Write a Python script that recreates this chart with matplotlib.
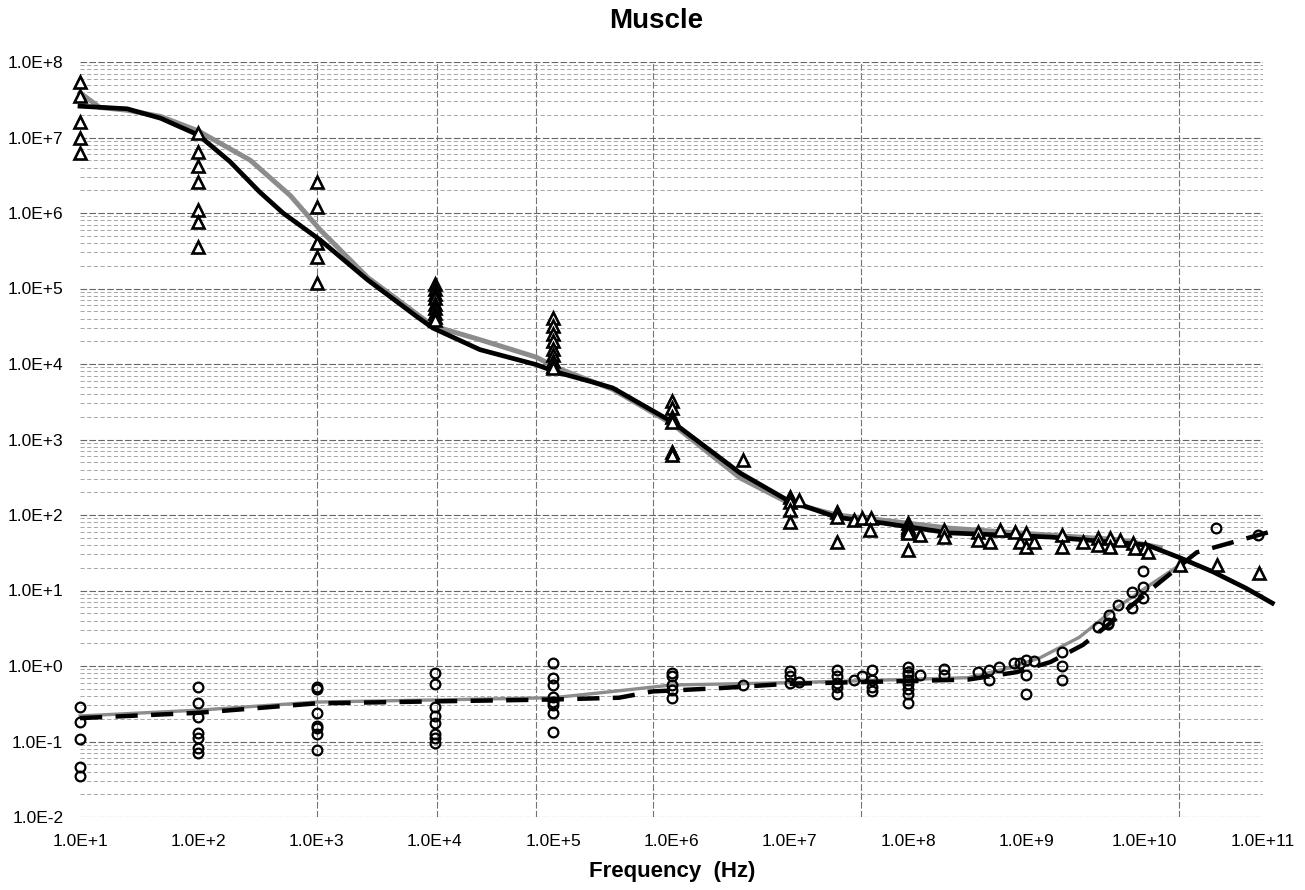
import numpy as np
import matplotlib
matplotlib.use('Agg')
import matplotlib.pyplot as plt
from matplotlib.ticker import FixedLocator, FuncFormatter, LogLocator, NullFormatter, NullLocator

plt.rcParams['font.family'] = ['Liberation Sans', 'DejaVu Sans']

# --- model curves (frequency in Hz) ---
# relative permittivity, black model
eps_black_f = [10, 25, 48, 100, 185, 330, 520, 1.07e3, 2.7e3, 7.1e3, 9.6e3, 2.4e4, 7.2e4, 1.07e5,
               2.3e5, 3.2e5, 1.02e6, 3.8e6, 9.5e6, 2.5e7, 6.2e7, 2.2e8, 1.6e9, 1.05e10, 2e10,
               3.8e10, 7.2e10, 1.2e11]
eps_black_v = [2.6e7, 2.4e7, 1.8e7, 1.08e7, 4.8e6, 1.9e6, 1.0e6, 4.4e5, 1.3e5, 4.2e4, 3.0e4, 1.55e4,
               9.8e3, 7.8e3, 5.6e3, 4.8e3, 1.7e3, 360, 158, 93, 78, 58, 51, 40, 27,
               17.6, 10.7, 6.8]

# relative permittivity, gray model
eps_gray_f = [10, 14.7, 25, 48, 100, 275, 600, 1.07e3, 2.7e3, 9.6e3, 2.4e4, 7.2e4, 1.07e5, 3.2e5,
              1.02e6, 3.8e6, 9.5e6, 2.5e7, 6.2e7, 2.2e8, 1.6e9, 6.2e9, 1.35e10]
eps_gray_v = [3.9e7, 2.5e7, 2.3e7, 1.9e7, 1.22e7, 5.0e6, 1.7e6, 6.0e5, 1.4e5, 3.2e4, 2.1e4, 1.23e4,
              8.9e3, 4.6e3, 1.6e3, 310, 148, 100, 85, 67, 54, 47, 37]

# conductivity, gray model
sig_gray_f = [10, 100, 1e3, 1e4, 1e5, 2.8e5, 1e6, 9.5e6, 8.5e7, 3.2e8, 6.9e8, 1.3e9, 2.8e9,
              5.4e9, 1.05e10, 2e10]
sig_gray_v = [0.218, 0.26, 0.333, 0.355, 0.38, 0.45, 0.56, 0.6, 0.66, 0.70, 0.93, 1.28, 2.4,
              5.5, 11.2, 22]

# conductivity, dashed model
sig_dash_f = [10, 100, 1e3, 1e4, 1e5, 3.6e5, 6.9e5, 2.6e6, 9.5e6, 8.5e7, 3.2e8, 8.3e8, 1.6e9,
              3e9, 6.2e9, 1.1e10, 2.75e10, 1.15e11]
sig_dash_v = [0.204, 0.24, 0.32, 0.34, 0.36, 0.38, 0.46, 0.51, 0.58, 0.63, 0.66, 0.83, 1.13,
              1.9, 4.7, 10, 32, 60]

# --- measured data ---
tri_f = ([10] * 5 + [100] * 7 + [1e3] * 5 + [1e4] * 9 + [1e5] * 9 + [1e6] * 6 + [4e6]
         + [1e7] * 4 + [1.2e7] + [2.5e7] * 3 + [3.5e7, 4.1e7, 4.9e7, 4.8e7]
         + [1e8] * 6 + [1.26e8, 2e8, 2e8, 3.9e8, 3.9e8, 4.9e8, 6e8, 8e8, 8.9e8, 1e9, 1e9,
                        1.17e9, 2e9, 2e9, 3e9, 4e9, 4e9, 5.1e9, 5.1e9, 6.2e9, 8e9, 8.3e9,
                        1e10, 1.07e10, 2e10, 4.1e10, 9.3e10])
tri_v = ([5.4e7, 3.5e7, 1.6e7, 9.8e6, 6.2e6]
         + [1.15e7, 6.5e6, 4.2e6, 2.6e6, 1.1e6, 7.6e5, 3.5e5]
         + [2.6e6, 1.2e6, 4.0e5, 2.6e5, 1.2e5]
         + [1.15e5, 1.0e5, 8.5e4, 7.4e4, 6.3e4, 5.5e4, 4.8e4, 4.2e4, 3.8e4]
         + [4.1e4, 3.2e4, 2.5e4, 2.0e4, 1.6e4, 1.3e4, 1.1e4, 9.5e3, 8.9e3]
         + [3.2e3, 2.6e3, 2.0e3, 1.7e3, 680, 620]
         + [540]
         + [174, 148, 117, 81] + [158] + [110, 93, 44] + [85, 91, 91, 63]
         + [78, 70, 65, 62, 58, 34]
         + [54, 63, 51, 60, 47, 44, 63, 60, 44, 57, 38, 44, 54, 38, 44, 50, 40, 50, 38, 47,
            43, 37, 37, 32, 22, 22, 17])

circ_f = ([10] * 5 + [100] * 7 + [1e3] * 7 + [1e4] * 8 + [1e5] * 8 + [1e6] * 5 + [4e6]
          + [1e7] * 3 + [1.2e7] + [2.5e7] * 5 + [3.5e7, 4.1e7] + [5e7] * 4 + [1e8] * 8
          + [1.26e8, 2e8, 2e8, 3.9e8, 4.8e8, 4.8e8, 5.9e8, 7.9e8, 8.9e8, 1e9, 1e9, 1e9, 1.16e9,
             2e9, 2e9, 2e9, 4e9, 4.9e9, 4.9e9, 5e9, 6e9, 7.8e9, 7.8e9, 9.7e9, 9.7e9, 9.7e9,
             4e10, 9e10])
circ_v = ([0.29, 0.18, 0.108, 0.046, 0.035]
          + [0.53, 0.32, 0.21, 0.13, 0.11, 0.082, 0.071]
          + [0.53, 0.50, 0.24, 0.16, 0.15, 0.124, 0.078]
          + [0.81, 0.58, 0.29, 0.22, 0.176, 0.126, 0.11, 0.096]
          + [1.1, 0.69, 0.56, 0.39, 0.33, 0.30, 0.24, 0.134]
          + [0.81, 0.73, 0.56, 0.48, 0.38]
          + [0.56]
          + [0.86, 0.73, 0.6] + [0.62] + [0.89, 0.73, 0.6, 0.53, 0.42] + [0.66, 0.73]
          + [0.89, 0.66, 0.53, 0.47] + [0.97, 0.83, 0.75, 0.65, 0.58, 0.5, 0.42, 0.32]
          + [0.77, 0.91, 0.77, 0.83, 0.89, 0.66, 0.97, 1.1, 1.1, 1.2, 0.77, 0.42, 1.16,
             1.53, 1.0, 0.66, 3.3, 3.6, 3.7, 4.7, 6.4, 5.9, 9.5, 11, 8.0, 18,
             68, 54])

# odd vertical grid lines of the original sheet
vgrid_f = [1e3, 1.05e4, 7.2e4, 7.0e5, 4.0e7, 1.95e10]

fig = plt.figure(figsize=(13.05, 8.9), dpi=100)
ax = fig.add_axes([80 / 1305, 73 / 890, 1183 / 1305, 755 / 890])
ax.set_xscale('log')
ax.set_yscale('log')
ax.set_xlim(10, 1e11)
ax.set_ylim(1e-2, 1e8)

for s in ax.spines.values():
    s.set_visible(False)

ax.xaxis.set_major_locator(FixedLocator([10.0 ** k for k in range(1, 12)]))
ax.xaxis.set_minor_locator(NullLocator())
ax.yaxis.set_major_locator(FixedLocator([10.0 ** k for k in range(-2, 9)]))
ax.yaxis.set_minor_locator(LogLocator(base=10, subs=np.arange(2, 10), numticks=30))
ax.yaxis.set_minor_formatter(NullFormatter())
fmt = FuncFormatter(lambda v, p: "1.0E%+d" % int(round(np.log10(v))))
ax.xaxis.set_major_formatter(fmt)
ax.yaxis.set_major_formatter(fmt)
ax.tick_params(which='both', length=0, labelsize=12.5)
ax.tick_params(axis='y', pad=12)
ax.tick_params(axis='x', pad=12)

ax.grid(True, which='major', axis='y', color='0.4', ls=(0, (6, 2)), lw=0.8)
ax.grid(True, which='minor', axis='y', color='0.6', ls=(0, (5, 3)), lw=0.6)
ax.set_axisbelow(True)
for f in vgrid_f:
    ax.axvline(f, color='0.45', lw=0.8, ls=(0, (6, 2)), zorder=0.5)

ax.plot(eps_gray_f, eps_gray_v, color='0.55', lw=3.6, zorder=2, clip_on=False)
ax.plot(eps_black_f, eps_black_v, color='black', lw=3.4, zorder=3, clip_on=False)
ax.plot(sig_gray_f, sig_gray_v, color='0.55', lw=2.4, zorder=2, clip_on=False)
ax.plot(sig_dash_f, sig_dash_v, color='black', lw=3.2, ls=(0, (5, 3)), zorder=3, clip_on=False)

ax.plot(tri_f, tri_v, ls='none', marker='^', ms=8.5, mfc='white', mec='black', mew=1.9,
        zorder=4, clip_on=False)
ax.plot(circ_f, circ_v, ls='none', marker='o', ms=7, mfc='none', mec='black', mew=1.6,
        zorder=4, clip_on=False)

fig.text(656 / 1305, 1 - 21 / 890, "Muscle", ha='center', va='center',
         fontsize=20, fontweight='bold')
fig.text(672 / 1305, 1 - 877 / 890, "Frequency  (Hz)", ha='center', va='baseline',
         fontsize=16, fontweight='bold')

fig.savefig('out.png', dpi=100)
